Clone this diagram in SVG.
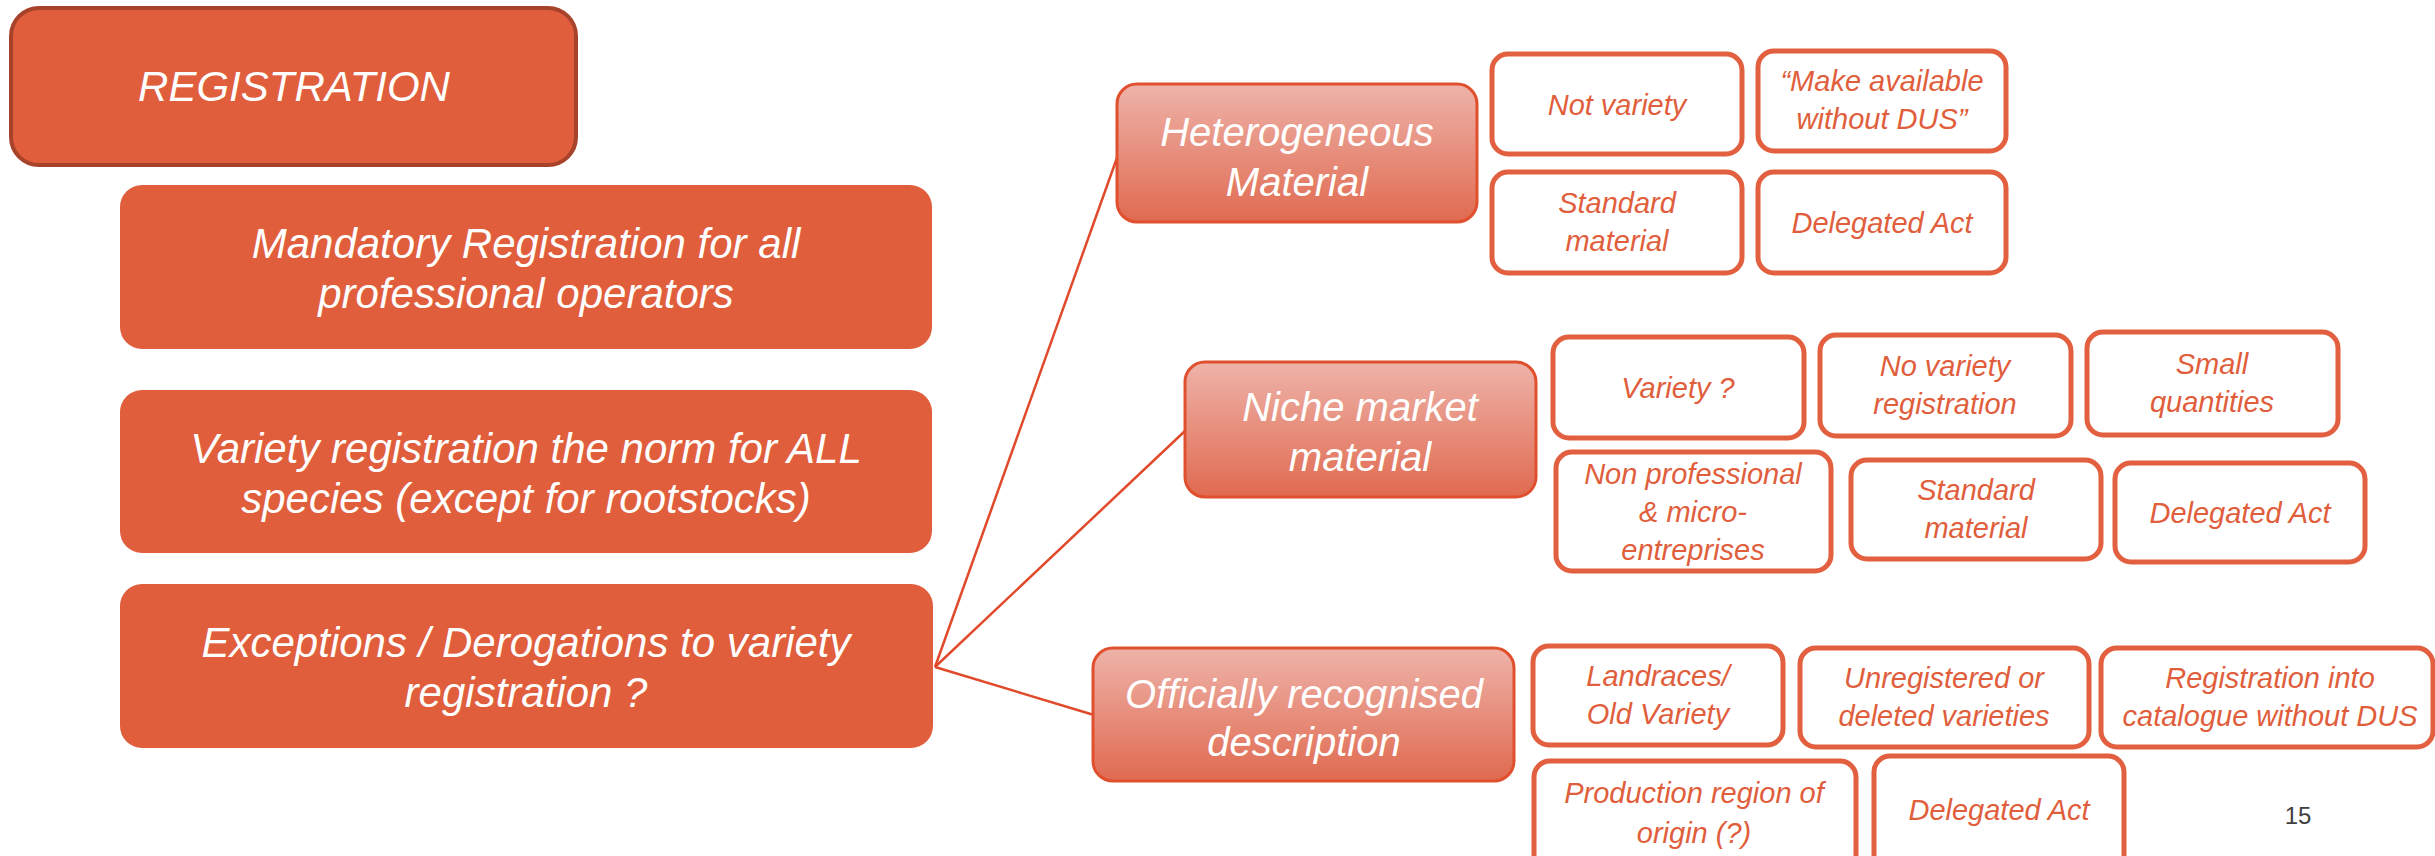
<svg xmlns="http://www.w3.org/2000/svg" width="2435" height="856" viewBox="0 0 2435 856">
<defs>
<linearGradient id="subg" x1="0" y1="0" x2="0" y2="1">
<stop offset="0" stop-color="#EEB3A9"/>
<stop offset="1" stop-color="#E06A50"/>
</linearGradient>
<style>
text{font-family:"Liberation Sans",Arial,sans-serif;font-style:italic;text-anchor:middle}
.main{fill:#E05E3C}
.wt{fill:#FFFFFF;font-size:42px}
.sub{fill:url(#subg);stroke:#E0502F;stroke-width:3}
.st{fill:#FFFFFF;font-size:40px}
.leaf{fill:#FFFFFF;stroke:#E2603F;stroke-width:5}
.lt{fill:#E05E3C;font-size:29px}
.con{stroke:#E04A2A;stroke-width:2.5;fill:none}
</style>
</defs>
<rect width="2435" height="856" fill="#FFFFFF"/>

<g id="registration">
<rect x="11" y="8" width="565" height="157" rx="28" fill="#E05E3C" stroke="#A8432B" stroke-width="4"/>
<text class="wt" x="294" y="101">REGISTRATION</text>
</g>

<g id="mandatory">
<rect class="main" x="120" y="185" width="812" height="164" rx="22"/>
<text class="wt" x="526" y="258">Mandatory Registration for all</text>
<text class="wt" x="526" y="308">professional operators</text>
</g>

<g id="variety-norm">
<rect class="main" x="120" y="390" width="812" height="163" rx="22"/>
<text class="wt" x="526" y="463">Variety registration the norm for ALL</text>
<text class="wt" x="526" y="513">species (except for rootstocks)</text>
</g>

<g id="exceptions">
<rect class="main" x="120" y="584" width="813" height="164" rx="22"/>
<text class="wt" x="526" y="657">Exceptions / Derogations to variety</text>
<text class="wt" x="526" y="707">registration ?</text>
</g>

<g id="connectors">
<line class="con" x1="935" y1="667" x2="1118" y2="155"/>
<line class="con" x1="935" y1="667" x2="1186" y2="430"/>
<line class="con" x1="935" y1="667" x2="1094" y2="715"/>
</g>

<g id="heterogeneous">
<rect class="sub" x="1117" y="84" width="360" height="138" rx="20"/>
<text class="st" x="1297" y="146">Heterogeneous</text>
<text class="st" x="1297" y="196">Material</text>
</g>

<g id="niche">
<rect class="sub" x="1185" y="362" width="351" height="135" rx="20"/>
<text class="st" x="1360" y="421">Niche market</text>
<text class="st" x="1360" y="471">material</text>
</g>

<g id="officially">
<rect class="sub" x="1093" y="648" width="421" height="133" rx="20"/>
<text class="st" x="1304" y="708">Officially recognised</text>
<text class="st" x="1304" y="756">description</text>
</g>

<g id="h-not-variety">
<rect class="leaf" x="1492" y="54" width="250" height="100" rx="16"/>
<text class="lt" x="1617" y="115">Not variety</text>
</g>
<g id="h-make-available">
<rect class="leaf" x="1758" y="51" width="248" height="100" rx="16"/>
<text class="lt" x="1882" y="91">“Make available</text>
<text class="lt" x="1882" y="129">without DUS”</text>
</g>
<g id="h-standard">
<rect class="leaf" x="1492" y="172" width="250" height="101" rx="16"/>
<text class="lt" x="1617" y="213">Standard</text>
<text class="lt" x="1617" y="251">material</text>
</g>
<g id="h-delegated">
<rect class="leaf" x="1758" y="172" width="248" height="101" rx="16"/>
<text class="lt" x="1882" y="233">Delegated Act</text>
</g>

<g id="n-variety">
<rect class="leaf" x="1553" y="337" width="251" height="101" rx="16"/>
<text class="lt" x="1678" y="398">Variety ?</text>
</g>
<g id="n-no-variety">
<rect class="leaf" x="1820" y="335" width="251" height="101" rx="16"/>
<text class="lt" x="1945" y="376">No variety</text>
<text class="lt" x="1945" y="414">registration</text>
</g>
<g id="n-small">
<rect class="leaf" x="2087" y="332" width="251" height="103" rx="16"/>
<text class="lt" x="2212" y="374">Small</text>
<text class="lt" x="2212" y="412">quantities</text>
</g>
<g id="n-nonprof">
<rect class="leaf" x="1556" y="452" width="275" height="119" rx="16"/>
<text class="lt" x="1693" y="484">Non professional</text>
<text class="lt" x="1693" y="522">&amp; micro-</text>
<text class="lt" x="1693" y="560">entreprises</text>
</g>
<g id="n-standard">
<rect class="leaf" x="1851" y="460" width="250" height="99" rx="16"/>
<text class="lt" x="1976" y="500">Standard</text>
<text class="lt" x="1976" y="538">material</text>
</g>
<g id="n-delegated">
<rect class="leaf" x="2115" y="463" width="250" height="99" rx="16"/>
<text class="lt" x="2240" y="523">Delegated Act</text>
</g>

<g id="o-landraces">
<rect class="leaf" x="1533" y="646" width="250" height="99" rx="16"/>
<text class="lt" x="1658" y="686">Landraces/</text>
<text class="lt" x="1658" y="724">Old Variety</text>
</g>
<g id="o-unregistered">
<rect class="leaf" x="1800" y="648" width="289" height="99" rx="16"/>
<text class="lt" x="1944" y="688">Unregistered or</text>
<text class="lt" x="1944" y="726">deleted varieties</text>
</g>
<g id="o-registration">
<rect class="leaf" x="2101" y="648" width="332" height="99" rx="16"/>
<text class="lt" x="2270" y="688">Registration into</text>
<text class="lt" x="2270" y="726">catalogue without DUS</text>
</g>
<g id="o-production">
<rect class="leaf" x="1534" y="761" width="322" height="110" rx="16"/>
<text class="lt" x="1694" y="803">Production region of</text>
<text class="lt" x="1694" y="843">origin (?)</text>
</g>
<g id="o-delegated">
<rect class="leaf" x="1874" y="756" width="250" height="115" rx="16"/>
<text class="lt" x="1999" y="820">Delegated Act</text>
</g>

<text x="2298" y="824" style="font-style:normal;font-size:24px;fill:#404040">15</text>
</svg>
